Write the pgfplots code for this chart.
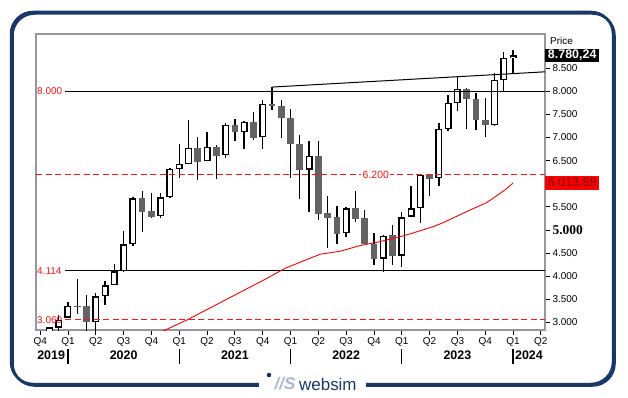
\documentclass[border=0pt]{standalone}
\usepackage{fontspec}
\setmainfont{Liberation Sans}
\newfontfamily\serifbf{Liberation Serif}
\usepackage{pgfplots}
\pgfplotsset{compat=1.18}
\usepackage{pgfplotstable}
\definecolor{navy}{RGB}{27,54,104}
\definecolor{candlegray}{RGB}{99,99,99}
\definecolor{framegray}{RGB}{150,150,165}
\definecolor{labred}{RGB}{255,20,20}
\definecolor{logolight}{RGB}{170,184,206}
\definecolor{boxtext}{RGB}{120,0,0}

% month index: 0 = Jan 2020
\pgfplotstableread{
m o h l c
-2 2780 2900 2750 2895
-1 2887 3161 2800 3053
0 3103 3449 3090 3363
3 3003 3645 2800 3566
4 3566 3891 3378 3804
5 3804 4265 3800 4107
6 4107 4980 4100 4692
7 4692 5716 4662 5688
10 5298 5796 5255 5710
11 5710 6344 5700 6316
12 6316 6863 6134 6424
13 6424 7383 6420 6770
15 6489 7123 6485 6792
17 6619 7312 6554 7268
19 7116 7346 6755 7333
21 7008 7816 6755 7723
26 6307 6928 5385 6597
30 4930 5500 4857 5471
34 4380 4880 4099 4878
36 4445 5398 4207 5276
37 5283 5955 5280 5471
38 5471 6190 5160 6186
40 6120 7318 5961 7182
41 7182 7924 7138 7751
42 7745 8299 7563 8048
46 7260 8400 7255 8242
47 8242 8849 8004 8719
48 8719 8898 8385 8780.24
}\upcandles

\pgfplotstableread{
m o h l c
1 3360 3940 3176 3330
2 3356 3594 2800 3003
8 5694 5846 4965 5398
9 5413 5796 5255 5290
14 6770 7015 6090 6480
16 6798 6842 6112 6610
18 7275 7405 6928 7108
20 7340 7556 6956 6999
22 7729 8090 7584 7671
23 7686 7816 6999 7411
24 7426 7621 6134 6857
25 6863 7058 5673 6300
27 6597 6928 5224 5354
28 5363 5738 4618 5261
29 5283 5515 4692 4921
31 5478 5846 5175 5246
32 5255 5434 4690 4692
33 4705 4930 4250 4380
35 4887 5110 4250 4445
39 6207 6210 5744 6112
43 8054 8060 7173 7822
44 7838 7968 7151 7368
45 7383 7859 7000 7260
}\downcandles

\pgfplotsset{candle/.style={draw=none, mark=none, forget plot,
  error bars/.cd, y dir=plus, y explicit, error mark=none}}

\begin{document}
\begin{tikzpicture}[x=1bp,y=1bp]
\path[use as bounding box, fill=white] (0,0) rectangle (628,397);
% outer frame with shadow
\draw[navy, line width=2.5bp, rounded corners=22bp] (12.5,11.5) rectangle (614.5,383.5);
\draw[navy, line width=2.5bp, rounded corners=22bp] (11,13) rectangle (613,385);
\fill[white] (259,3) rectangle (366,24);
\fill[navy] (269,22) circle (2.3);
\node[font=\fontsize{17}{17}\selectfont\bfseries\itshape, text=logolight, inner sep=0pt] at (285,13) {//S};
\node[font=\fontsize{17}{17}\selectfont, text=navy, anchor=west, inner sep=0pt] at (299,13) {websim};

\begin{axis}[
  at={(36bp,67bp)}, anchor=south west, scale only axis,
  width=509bp, height=296bp,
  xmin=-3.45, xmax=51.45, ymin=2836, ymax=9238,
  clip mode=individual,
  axis line style={draw=framegray, line width=1.2bp},
  tick align=outside, major tick length=5bp,
  tick style={black, line width=0.8bp},
  xtick pos=left, ytick pos=right, yticklabel pos=right,
  xtick={-3,0,...,51},
  xticklabels={Q4,Q1,Q2,Q3,Q4,Q1,Q2,Q3,Q4,Q1,Q2,Q3,Q4,Q1,Q2,Q3,Q4,Q1,Q2},
  ytick={3000,3500,4000,4500,5000,5500,6500,7000,7500,8000,8500},
  yticklabels={3.000,3.500,4.000,4.500,{\serifbf\bfseries\fontsize{13.5}{14}\selectfont 5.000},5.500,6.500,7.000,7.500,8.000,{\raisebox{-4.5bp}{8.500}}},
  ticklabel style={font=\fontsize{10}{12}\selectfont, text=black},
  yticklabel style={xshift=-1bp},
  xticklabel style={yshift=1bp},
]
% wicks
\addplot[candle, error bar style={draw=black, line width=1.3bp}]
  table[x=m, y=l, y error expr=\thisrow{h}-\thisrow{l}] {\upcandles};
\addplot[candle, error bar style={draw=black, line width=1.3bp}]
  table[x=m, y=l, y error expr=\thisrow{h}-\thisrow{l}] {\downcandles};
% up bodies: black outline then white inside
\addplot[candle, error bar style={draw=black, line width=7bp}]
  table[x=m, y=o, y error expr=\thisrow{c}-\thisrow{o}] {\upcandles};
\addplot[candle, error bar style={draw=white, line width=4.2bp}]
  table[x=m, y expr=\thisrow{o}+30, y error expr=\thisrow{c}-\thisrow{o}-60] {\upcandles};
% down bodies
\addplot[candle, error bar style={draw=candlegray, line width=6.6bp}]
  table[x=m, y=c, y error expr=\thisrow{o}-\thisrow{c}] {\downcandles};

% horizontal levels
\addplot[black, line width=1.1bp] coordinates {(-0.3,8000) (51.45,8000)};
\addplot[black, line width=1.1bp] coordinates {(-0.3,4114) (51.45,4114)};
\addplot[labred, line width=1.2bp, dash pattern=on 6bp off 3.5bp] coordinates {(-0.3,3060) (51.45,3060)};
\addplot[labred, line width=1.2bp, dash pattern=on 6bp off 3.5bp] coordinates {(-3.45,6200) (51.45,6200)};
% trend line
\addplot[black, line width=1bp] coordinates {(22,8090) (51.45,8420)};
% moving average
\addplot[red, line width=0.9bp] coordinates {
(10.0,2790) (12.83,3053) (21.27,3934) (23.43,4172) (25.04,4302) (27.2,4475)
(29.36,4540) (31.51,4662) (33.67,4748) (35.83,4856) (36.9,4915) (39.41,5073)
(40.49,5160) (43.01,5398) (45.17,5593) (47.14,5867) (48,6013.89)};

% level labels
\node[font=\fontsize{10}{12}\selectfont, text=labred, anchor=west, inner sep=1bp] at (axis cs:-3.45,8000) {8.000};
\node[font=\fontsize{10}{12}\selectfont, text=labred, anchor=west, inner sep=1bp] at (axis cs:-3.45,4114) {4.114};
\node[font=\fontsize{10}{12}\selectfont, text=labred, anchor=west, inner sep=1bp] at (axis cs:-3.45,3060) {3.060};
\node[font=\fontsize{10.5}{12}\selectfont, text=labred, fill=white, inner sep=1.5bp] at (axis cs:33.2,6200) {6.200};

% right side labels
\node[font=\fontsize{10}{12}\selectfont, anchor=west, inner sep=0pt] at (axis cs:51.45,9093) [xshift=5bp] {Price};
\node[font=\bfseries\fontsize{12.5}{13}\selectfont, text=white, fill=black, anchor=west, inner sep=0.5bp,
  minimum height=13.3bp, minimum width=54bp] at (axis cs:51.45,8780.24) {8.780,24};
\node[font=\fontsize{12.5}{13}\selectfont, text=boxtext, fill=red, anchor=west, inner sep=0.5bp,
  minimum height=13.3bp, minimum width=54bp] at (axis cs:51.45,6013.89) {6.013,89};

% year labels
\node[font=\bfseries\fontsize{12.5}{14}\selectfont, anchor=east, inner sep=0pt] at (axis cs:-0.3,2836) [yshift=-25bp] {2019};
\node[font=\bfseries\fontsize{12.5}{14}\selectfont, inner sep=0pt] at (axis cs:6,2836) [yshift=-25bp] {2020};
\node[font=\bfseries\fontsize{12.5}{14}\selectfont, inner sep=0pt] at (axis cs:18,2836) [yshift=-25bp] {2021};
\node[font=\bfseries\fontsize{12.5}{14}\selectfont, inner sep=0pt] at (axis cs:30,2836) [yshift=-25bp] {2022};
\node[font=\bfseries\fontsize{12.5}{14}\selectfont, inner sep=0pt] at (axis cs:42,2836) [yshift=-25bp] {2023};
\node[font=\bfseries\fontsize{12.5}{14}\selectfont, anchor=west, inner sep=0pt] at (axis cs:48.2,2836) [yshift=-25bp] {2024};
\pgfplotsinvokeforeach{0,12,24,36,48}{
  \draw[black, line width=1.2bp] ([yshift=-19bp]axis cs:#1,2836) -- ([yshift=-34bp]axis cs:#1,2836);
}
\end{axis}
\end{tikzpicture}
\end{document}
